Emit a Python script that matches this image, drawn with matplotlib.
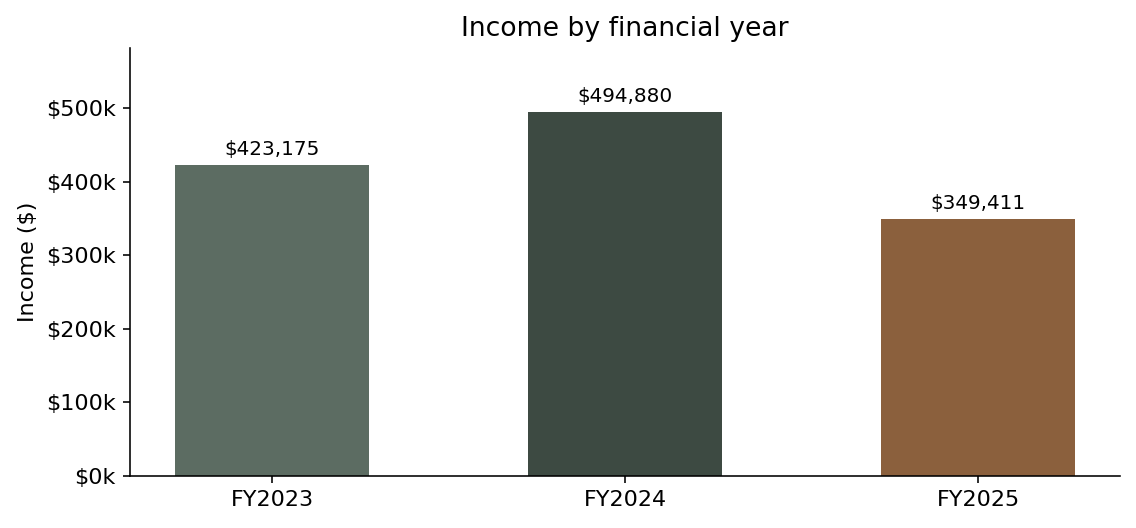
import matplotlib.pyplot as plt
from matplotlib.ticker import FuncFormatter

# financial year income
years = ['FY2023', 'FY2024', 'FY2025']
income = [423175, 494880, 349411]
colors = ['#5c6c62', '#3d4a42', '#8b603d']

plt.rcParams['font.size'] = 11.1

fig, ax = plt.subplots(figsize=(1136 / 144, 528 / 144), dpi=144)
bars = ax.bar(years, income, width=0.55, color=colors)

for b, v in zip(bars, income):
    ax.annotate(f'${v:,.0f}', (b.get_x() + b.get_width() / 2, v),
                xytext=(0, 3), textcoords='offset points',
                ha='center', va='bottom', fontsize=10)

ax.set_ylim(0, max(income) * 1.175)
ax.yaxis.set_major_formatter(FuncFormatter(lambda x, p: f'${x / 1000:.0f}k'))
ax.set_ylabel('Income ($)')
ax.set_title('Income by financial year', fontsize=13.3)
ax.spines['top'].set_visible(False)
ax.spines['right'].set_visible(False)

fig.subplots_adjust(left=0.1144, right=0.986, bottom=0.0985, top=0.909)
fig.savefig('out.png', dpi=144)
